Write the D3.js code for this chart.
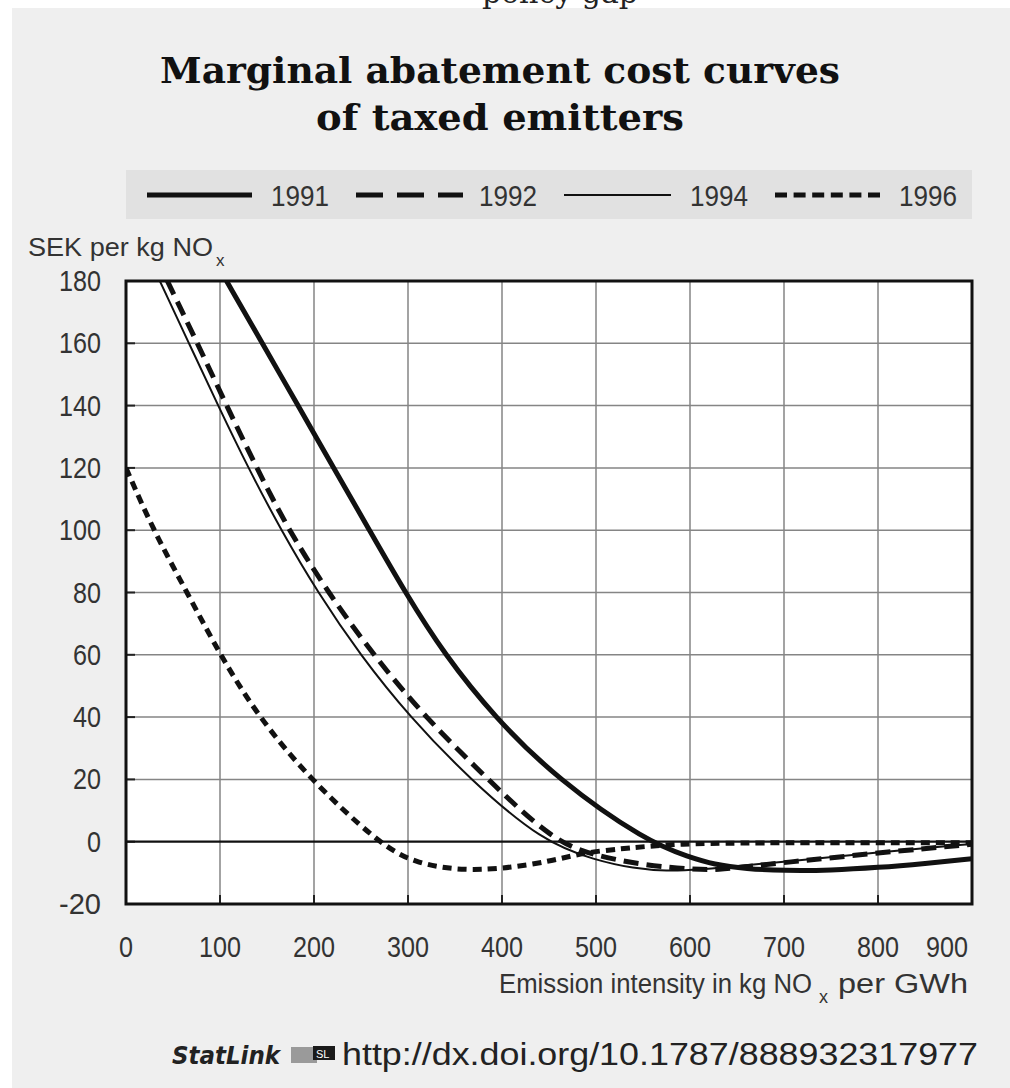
<!DOCTYPE html>
<html><head><meta charset="utf-8">
<script src="https://cdn.jsdelivr.net/npm/d3@7"></script>
<style>body{margin:0;background:#fff}svg{display:block}</style>
</head><body>
<script>
// ---------- data ----------
const titleLines = ["Marginal abatement cost curves", "of taxed emitters"];
const years = ["1991", "1992", "1994", "1996"];
const xTicks = [0, 100, 200, 300, 400, 500, 600, 700, 800, 900];
const yTicks = [-20, 0, 20, 40, 60, 80, 100, 120, 140, 160, 180];

const x1991 = [107, 145, 183, 221, 259, 297, 339, 392, 459, 554, 600, 625, 660, 700, 750, 800, 850, 900];
const y1991 = [180, 160, 140, 120, 100, 80, 60, 40, 20, 0, -5, -7.3, -8.7, -9.3, -9.2, -8.3, -7, -5.5];

const x1992 = [44, 76, 107, 139, 173, 215, 263, 318, 385, 455, 500, 550, 605, 630, 660, 700, 800, 900];
const y1992 = [180, 160, 140, 120, 100, 80, 60, 40, 20, 0, -4.5, -7.5, -9, -9, -8, -6.7, -3.6, -0.8];

const x1994 = [36, 67, 98, 130, 165, 204, 249, 302, 366, 443, 500, 540, 575, 610, 650, 700, 800, 900];
const y1994 = [180, 160, 140, 120, 100, 80, 60, 40, 20, 0, -6, -8.6, -9.5, -9, -7.8, -6.5, -3.4, -0.7];

const x1996 = [0, 29, 65, 100, 141, 196, 267, 306, 362, 412, 448, 472, 494, 529, 550, 589, 650, 750, 900];
const y1996 = [120, 100, 80, 60, 40, 20, 0, -7, -9.5, -8.2, -6.4, -4.7, -3.3, -2.2, -1.6, -0.7, -0.4, -0.3, -0.3];

// ---------- layout ----------
const W = 1010, H = 1088;
const svg = d3.select("body").append("svg").attr("width", W).attr("height", H);
const sans = "'Liberation Sans',Arial,sans-serif";
const ink = "#333";

svg.append("rect").attr("x", 12).attr("y", 8).attr("width", W - 12).attr("height", H - 8).attr("fill", "#efefef");

// cut-off text at the very top (previous heading, mostly outside the frame)
svg.append("text").attr("x", 560).attr("y", 3).attr("text-anchor", "middle")
  .attr("font-family", "'DejaVu Serif',serif").attr("font-size", 30).attr("fill", "#222")
  .text("policy gap");

// title
const titleW = [680, 368];
svg.selectAll("text.title").data(titleLines).join("text").attr("class", "title")
  .attr("x", 500).attr("y", (d, i) => 83 + i * 47).attr("text-anchor", "middle")
  .attr("font-family", "'DejaVu Serif',serif").attr("font-weight", "bold").attr("font-size", 35)
  .attr("textLength", (d, i) => titleW[i]).attr("lengthAdjust", "spacingAndGlyphs")
  .attr("fill", "#111").text(d => d);

const x = d3.scaleLinear().domain([0, 900]).range([126, 972]);
const y = d3.scaleLinear().domain([-20, 180]).range([904, 281]);

// legend
const legG = svg.append("g");
legG.append("rect").attr("x", 126).attr("y", 170).attr("width", 846).attr("height", 49).attr("fill", "#e1e1e1");
const styles = {
  "1991": {w: 5, dash: null},
  "1992": {w: 5, dash: "15,8"},
  "1994": {w: 2, dash: null},
  "1996": {w: 5, dash: "9,6"}
};
const legDash = {"1991": null, "1992": "27,14", "1994": null, "1996": "12,6.6"};
const legPos = [[147, 252, 271], [356, 463, 479], [564, 671, 690], [775, 880, 899]];
years.forEach((yr, i) => {
  const [a, b, t] = legPos[i];
  legG.append("line").attr("x1", a).attr("x2", b).attr("y1", 195).attr("y2", 195)
    .attr("stroke", "#111").attr("stroke-width", styles[yr].w)
    .attr("stroke-dasharray", legDash[yr]);
  legG.append("text").attr("x", t).attr("y", 206).attr("font-family", sans)
    .attr("font-size", 30).attr("textLength", 58).attr("lengthAdjust", "spacingAndGlyphs")
    .attr("fill", ink).text(yr);
});

// y axis title
svg.append("text").attr("x", 28).attr("y", 256).attr("font-family", sans)
  .attr("font-size", 25).attr("fill", ink)
  .attr("textLength", 185).attr("lengthAdjust", "spacingAndGlyphs").text("SEK per kg NO");
svg.append("text").attr("x", 216).attr("y", 266).attr("font-family", sans)
  .attr("font-size", 17).attr("fill", ink).text("x");

// plot area
svg.append("rect").attr("x", x(0)).attr("y", y(180)).attr("width", x(900) - x(0))
  .attr("height", y(-20) - y(180)).attr("fill", "#fff");

svg.append("defs").append("clipPath").attr("id", "clip").append("rect")
  .attr("x", x(0)).attr("y", y(180)).attr("width", x(900) - x(0)).attr("height", y(-20) - y(180));

// grid
svg.append("g").selectAll("line").data(xTicks.slice(1, -1)).join("line")
  .attr("x1", d => x(d)).attr("x2", d => x(d)).attr("y1", y(180)).attr("y2", y(-20))
  .attr("stroke", "#858585").attr("stroke-width", 1.5);
svg.append("g").selectAll("line").data(yTicks.slice(1, -1).filter(d => d !== 0)).join("line")
  .attr("y1", d => y(d)).attr("y2", d => y(d)).attr("x1", x(0)).attr("x2", x(900))
  .attr("stroke", "#858585").attr("stroke-width", 1.5);
// tick marks
svg.append("g").selectAll("line").data(yTicks.slice(1, -1)).join("line")
  .attr("y1", d => y(d)).attr("y2", d => y(d)).attr("x1", x(0)).attr("x2", x(0) + 9)
  .attr("stroke", "#222").attr("stroke-width", 2);
svg.append("g").selectAll("line").data(xTicks.slice(1, -1)).join("line")
  .attr("x1", d => x(d)).attr("x2", d => x(d)).attr("y1", y(-20)).attr("y2", y(-20) - 9)
  .attr("stroke", "#222").attr("stroke-width", 2);
// zero line
svg.append("line").attr("x1", x(0)).attr("x2", x(900)).attr("y1", y(0)).attr("y2", y(0))
  .attr("stroke", "#111").attr("stroke-width", 2.2);

// curves
const series = {
  "1991": d3.zip(x1991, y1991),
  "1992": d3.zip(x1992, y1992),
  "1994": d3.zip(x1994, y1994),
  "1996": d3.zip(x1996, y1996)
};
const line = d3.line().x(d => x(d[0])).y(d => y(d[1])).curve(d3.curveBasis);
const cg = svg.append("g").attr("clip-path", "url(#clip)");
["1996", "1994", "1992", "1991"].forEach(yr => {
  cg.append("path").datum(series[yr]).attr("d", line).attr("fill", "none")
    .attr("stroke", "#111").attr("stroke-width", styles[yr].w)
    .attr("stroke-dasharray", styles[yr].dash);
});

// frame
svg.append("rect").attr("x", x(0)).attr("y", y(180)).attr("width", x(900) - x(0))
  .attr("height", y(-20) - y(180)).attr("fill", "none").attr("stroke", "#111").attr("stroke-width", 3);

// y tick labels
svg.append("g").selectAll("text").data(yTicks).join("text")
  .attr("x", 101).attr("y", d => y(d) + 10).attr("text-anchor", "end")
  .attr("font-family", sans).attr("font-size", 30)
  .attr("textLength", d => String(d).length * 14).attr("lengthAdjust", "spacingAndGlyphs")
  .attr("fill", ink).text(d => d);

// x tick labels
svg.append("g").selectAll("text").data(xTicks).join("text")
  .attr("x", d => d === 900 ? x(d) - 4 : x(d)).attr("y", 957)
  .attr("text-anchor", d => d === 900 ? "end" : "middle")
  .attr("font-family", sans).attr("font-size", 30)
  .attr("textLength", d => String(d).length * 14).attr("lengthAdjust", "spacingAndGlyphs")
  .attr("fill", ink).text(d => d);

// x axis title
svg.append("text").attr("x", 499).attr("y", 993)
  .attr("font-family", sans).attr("font-size", 27).attr("fill", ink)
  .attr("textLength", 313).attr("lengthAdjust", "spacingAndGlyphs").text("Emission intensity in kg NO");
svg.append("text").attr("x", 819).attr("y", 1003)
  .attr("font-family", sans).attr("font-size", 18).attr("fill", ink).text("x");
svg.append("text").attr("x", 838).attr("y", 993)
  .attr("font-family", sans).attr("font-size", 27).attr("fill", ink)
  .attr("textLength", 130).attr("lengthAdjust", "spacingAndGlyphs").text("per GWh");

// StatLink footer
svg.append("text").attr("x", 172).attr("y", 1064)
  .attr("font-family", "'DejaVu Sans',sans-serif").attr("font-style", "italic").attr("font-weight", "bold")
  .attr("font-size", 24).attr("fill", "#222").attr("textLength", 108).attr("lengthAdjust", "spacingAndGlyphs")
  .text("StatLink");
const ic = svg.append("g");
ic.append("rect").attr("x", 291).attr("y", 1047).attr("width", 26).attr("height", 16).attr("fill", "#9a9a9a");
ic.append("rect").attr("x", 313).attr("y", 1046).attr("width", 22).attr("height", 14).attr("fill", "#1a1a1a");
ic.append("text").attr("x", 316).attr("y", 1058).attr("font-family", sans).attr("font-size", 11)
  .attr("fill", "#fff").text("SL");
svg.append("text").attr("x", 342).attr("y", 1065)
  .attr("font-family", sans).attr("font-size", 32).attr("fill", "#222")
  .attr("textLength", 636).attr("lengthAdjust", "spacingAndGlyphs")
  .text("http://dx.doi.org/10.1787/888932317977");
</script>
</body></html>
